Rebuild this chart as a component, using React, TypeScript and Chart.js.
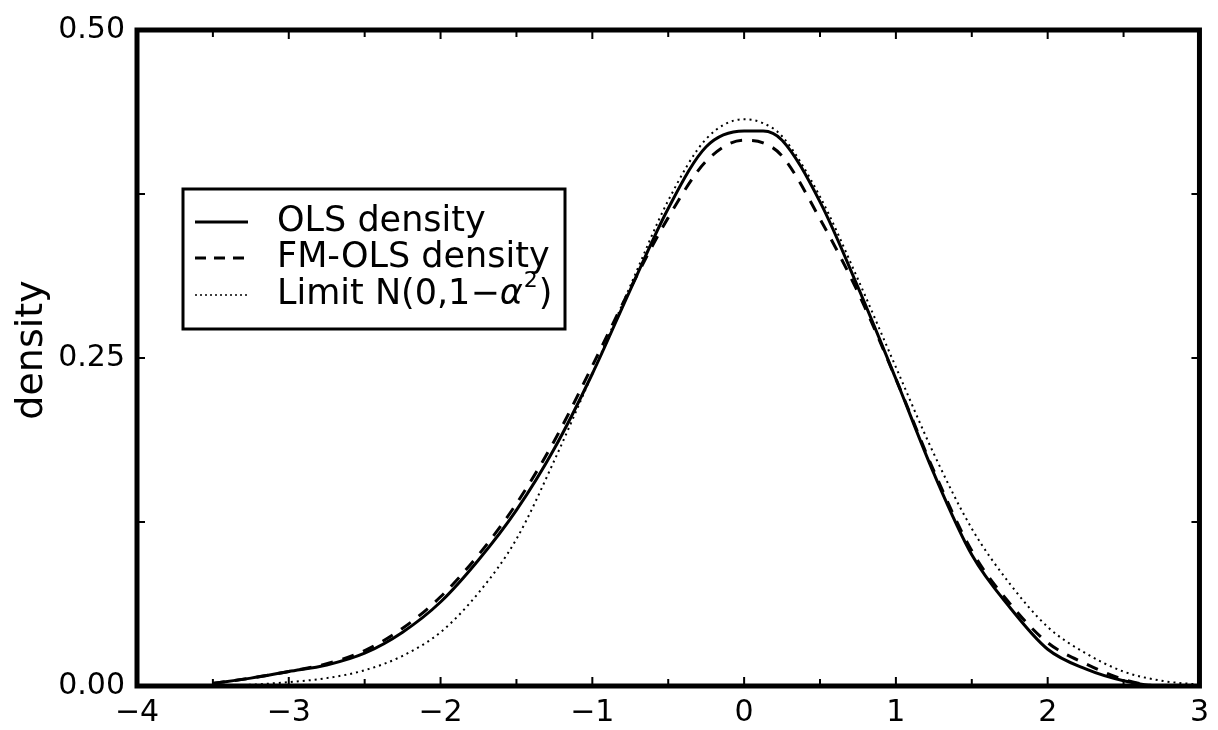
import React, { useEffect, useRef } from "react";
import { Chart, registerables } from "chart.js";

Chart.register(...registerables);

// ---- data ----
const X_GRID = [
  -3.5, -3.25, -3.0, -2.75, -2.5, -2.25, -2.0, -1.75, -1.5, -1.25, -1.0, -0.75, -0.5, -0.25,
  0.0, 0.125, 0.25, 0.5, 0.75, 1.0, 1.25, 1.5, 1.75, 2.0, 2.25, 2.5, 2.75, 3.0,
];
const OLS_DENSITY = [
  0.002, 0.006, 0.011, 0.016, 0.025, 0.041, 0.064, 0.096, 0.134, 0.181, 0.238, 0.302, 0.364, 0.411,
  0.423, 0.423, 0.416, 0.369, 0.304, 0.234, 0.162, 0.100, 0.060, 0.028, 0.013, 0.004, 0.0, 0.0,
];
const FMOLS_DENSITY = [
  0.002, 0.006, 0.011, 0.017, 0.027, 0.044, 0.068, 0.100, 0.139, 0.187, 0.244, 0.303, 0.357, 0.400,
  0.416, 0.414, 0.404, 0.356, 0.300, 0.234, 0.164, 0.103, 0.063, 0.033, 0.017, 0.005, 0.0, 0.0,
];
const LIMIT_DENSITY = [
  0.0003, 0.001, 0.003, 0.006, 0.012, 0.023, 0.041, 0.071, 0.112, 0.172, 0.238, 0.305, 0.370, 0.417,
  0.432, 0.429, 0.419, 0.373, 0.310, 0.243, 0.177, 0.120, 0.078, 0.045, 0.025, 0.011, 0.004, 0.001,
];
const SERIES_LABELS = ["OLS density", "FM-OLS density", "Limit N(0,1−α²)"];
const X_TICK_VALUES = [-4, -3, -2, -1, 0, 1, 2, 3];
const Y_TICK_VALUES = [0.0, 0.25, 0.5];
const Y_TITLE = "density";

const FONT = "'DejaVu Sans', sans-serif";

const framePlugin = {
  id: "frameAndLegend",
  afterDraw(chart: any) {
    const { ctx, chartArea } = chart;
    const xs = chart.scales.x;
    const ys = chart.scales.y;
    const { left, right, top, bottom } = chartArea;
    ctx.save();
    ctx.strokeStyle = "#000";
    ctx.fillStyle = "#000";
    // frame
    ctx.lineWidth = 5;
    ctx.strokeRect(left, top, right - left, bottom - top);
    // inward ticks
    ctx.lineWidth = 2;
    for (let v = -4; v <= 3.001; v += 0.5) {
      const px = xs.getPixelForValue(v);
      const len = Math.abs(v - Math.round(v)) < 1e-6 ? 9 : 7;
      ctx.beginPath();
      ctx.moveTo(px, bottom);
      ctx.lineTo(px, bottom - len);
      ctx.moveTo(px, top);
      ctx.lineTo(px, top + len);
      ctx.stroke();
    }
    for (let v = 0; v <= 0.5001; v += 0.125) {
      const py = ys.getPixelForValue(v);
      ctx.beginPath();
      ctx.moveTo(left, py);
      ctx.lineTo(left + 8, py);
      ctx.moveTo(right, py);
      ctx.lineTo(right - 8, py);
      ctx.stroke();
    }
    // y title
    ctx.save();
    ctx.translate(32, (top + bottom) / 2 - 8);
    ctx.rotate(-Math.PI / 2);
    ctx.font = `38px ${FONT}`;
    ctx.textAlign = "center";
    ctx.textBaseline = "middle";
    ctx.fillText(Y_TITLE, 0, 0);
    ctx.restore();

    // legend
    const bx = left + 46;
    const by = top + 159;
    const bw = 382;
    const bh = 140;
    ctx.lineWidth = 3;
    ctx.strokeRect(bx, by, bw, bh);
    const rows = [by + 33, by + 69, by + 106];
    const lx1 = bx + 12;
    const lx2 = bx + 65;
    const tx = bx + 94;
    // solid
    ctx.setLineDash([]);
    ctx.lineWidth = 3;
    ctx.beginPath();
    ctx.moveTo(lx1, rows[0]);
    ctx.lineTo(lx2, rows[0]);
    ctx.stroke();
    // dashed
    ctx.setLineDash([11, 8]);
    ctx.beginPath();
    ctx.moveTo(lx1, rows[1]);
    ctx.lineTo(lx2, rows[1]);
    ctx.stroke();
    // dotted
    ctx.setLineDash([2, 3]);
    ctx.lineWidth = 1.5;
    ctx.beginPath();
    ctx.moveTo(lx1, rows[2]);
    ctx.lineTo(lx2, rows[2]);
    ctx.stroke();
    ctx.setLineDash([]);

    ctx.textAlign = "left";
    ctx.textBaseline = "middle";
    const fs = 35;
    ctx.font = `${fs}px ${FONT}`;
    ctx.fillText(SERIES_LABELS[0], tx, rows[0]);
    ctx.fillText(SERIES_LABELS[1], tx, rows[1]);
    // third label with italic alpha and superscript
    let x = tx;
    const p1 = "Limit N(0,1−";
    ctx.fillText(p1, x, rows[2]);
    x += ctx.measureText(p1).width;
    ctx.font = `italic ${fs}px ${FONT}`;
    ctx.fillText("α", x, rows[2]);
    x += ctx.measureText("α").width + 1;
    ctx.font = `22px ${FONT}`;
    ctx.fillText("2", x, rows[2] - 14);
    x += ctx.measureText("2").width + 1;
    ctx.font = `${fs}px ${FONT}`;
    ctx.fillText(")", x, rows[2]);
    ctx.restore();
  },
};

export default function App() {
  const ref = useRef<HTMLCanvasElement | null>(null);
  useEffect(() => {
    if (!ref.current) return;
    const mk = (arr: number[]) => X_GRID.map((x, i) => ({ x, y: arr[i] }));
    const chart = new Chart(ref.current, {
      type: "line",
      data: {
        datasets: [
          {
            label: SERIES_LABELS[2],
            data: mk(LIMIT_DENSITY),
            borderColor: "#000",
            borderWidth: 2,
            borderDash: [2, 4],
            pointRadius: 0,
            cubicInterpolationMode: "monotone",
            fill: false,
          },
          {
            label: SERIES_LABELS[1],
            data: mk(FMOLS_DENSITY),
            borderColor: "#000",
            borderWidth: 3,
            borderDash: [12, 10],
            pointRadius: 0,
            cubicInterpolationMode: "monotone",
            fill: false,
          },
          {
            label: SERIES_LABELS[0],
            data: mk(OLS_DENSITY),
            borderColor: "#000",
            borderWidth: 3,
            pointRadius: 0,
            cubicInterpolationMode: "monotone",
            fill: false,
          },
        ],
      },
      options: {
        responsive: false,
        animation: false,
        devicePixelRatio: 1,
        layout: { padding: { top: 30, right: 10, left: 0, bottom: 0 } },
        plugins: { legend: { display: false }, tooltip: { enabled: false } },
        scales: {
          x: {
            type: "linear",
            min: -4,
            max: 3,
            afterBuildTicks: (s: any) => {
              s.ticks = X_TICK_VALUES.map((v) => ({ value: v }));
            },
            afterFit: (s: any) => {
              s.height = 44;
            },
            grid: { display: false, drawTicks: false },
            border: { display: false },
            ticks: {
              padding: 9,
              color: "#000",
              font: { family: FONT, size: 30 },
              maxRotation: 0,
              autoSkip: false,
              callback: (v: any) => (Number(v) < 0 ? "−" + Math.abs(Number(v)) : String(v)),
            },
          },
          y: {
            min: 0,
            max: 0.5,
            afterBuildTicks: (s: any) => {
              s.ticks = Y_TICK_VALUES.map((v) => ({ value: v }));
            },
            afterFit: (s: any) => {
              s.width = 137;
            },
            grid: { display: false, drawTicks: false },
            border: { display: false },
            ticks: {
              padding: 12,
              color: "#000",
              font: { family: FONT, size: 30 },
              autoSkip: false,
              callback: (v: any) => Number(v).toFixed(2),
            },
          },
        },
      },
      plugins: [framePlugin],
    });
    return () => chart.destroy();
  }, []);
  return (
    <div style={{ position: "absolute", left: 0, top: 0, width: 1218, height: 730, background: "#fff" }}>
      <canvas ref={ref} width={1218} height={730} style={{ display: "block" }} />
    </div>
  );
}
